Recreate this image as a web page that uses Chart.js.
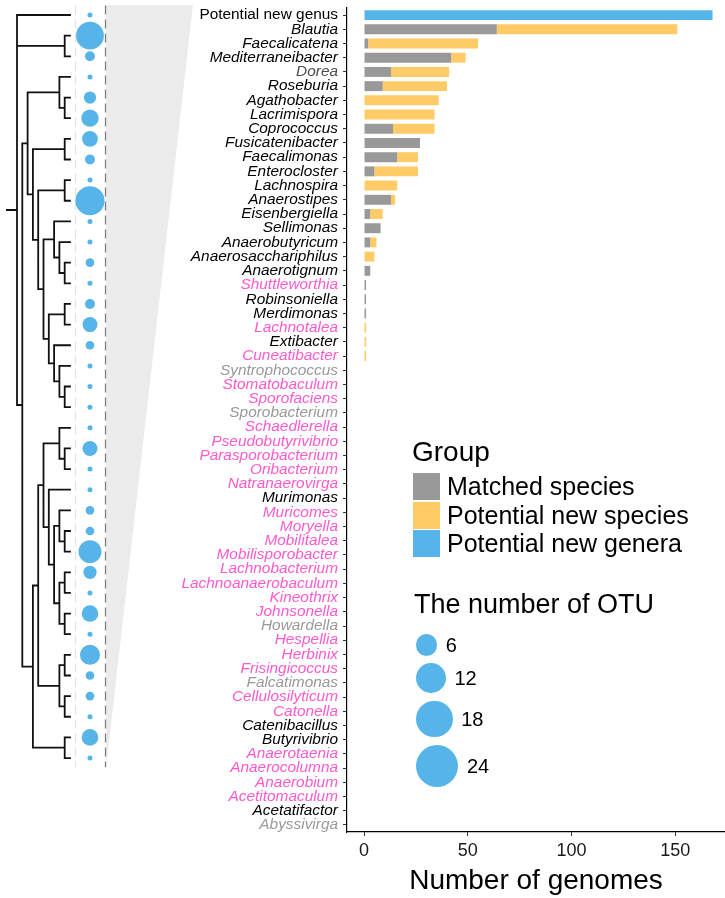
<!DOCTYPE html>
<html>
<head>
<meta charset="utf-8">
<script src="https://cdn.jsdelivr.net/npm/chart.js@4.4.0/dist/chart.umd.min.js"></script>
<style>
  body { margin: 0; background: #fff; }
  #wrap { position: relative; width: 725px; height: 898px; overflow: hidden; font-family: "Liberation Sans", Arial, sans-serif; }
  #wrap canvas { position: absolute; top: 0; }
  #treeCanvas { left: 0; }
  #barCanvas { left: 170px; }
  .lg { position: absolute; color: #000; white-space: nowrap; }
  .key { position: absolute; width: 27px; height: 27px; }
  .dot { position: absolute; border-radius: 50%; background: #56B4E9; }
</style>
</head>
<body>
<div id="wrap">
  <canvas id="treeCanvas" width="200" height="898"></canvas>
  <canvas id="barCanvas" width="555" height="898"></canvas>
  <div id="legend"></div>
</div>
<script>
/**** Daten ****/

/* Gattungen, von oben nach unten */
const genera = [
  'Potential new genus', 'Blautia', 'Faecalicatena', 'Mediterraneibacter', 'Dorea',
  'Roseburia', 'Agathobacter', 'Lacrimispora', 'Coprococcus', 'Fusicatenibacter',
  'Faecalimonas', 'Enterocloster', 'Lachnospira', 'Anaerostipes', 'Eisenbergiella',
  'Sellimonas', 'Anaerobutyricum', 'Anaerosacchariphilus', 'Anaerotignum', 'Shuttleworthia',
  'Robinsoniella', 'Merdimonas', 'Lachnotalea', 'Extibacter', 'Cuneatibacter',
  'Syntrophococcus', 'Stomatobaculum', 'Sporofaciens', 'Sporobacterium', 'Schaedlerella',
  'Pseudobutyrivibrio', 'Parasporobacterium', 'Oribacterium', 'Natranaerovirga', 'Murimonas',
  'Muricomes', 'Moryella', 'Mobilitalea', 'Mobilisporobacter', 'Lachnobacterium',
  'Lachnoanaerobaculum', 'Kineothrix', 'Johnsonella', 'Howardella', 'Hespellia',
  'Herbinix', 'Frisingicoccus', 'Falcatimonas', 'Cellulosilyticum', 'Catonella',
  'Catenibacillus', 'Butyrivibrio', 'Anaerotaenia', 'Anaerocolumna', 'Anaerobium',
  'Acetitomaculum', 'Acetatifactor', 'Abyssivirga'
];

/* Farbe der Beschriftung: k = schwarz, d = dunkelgrau, p = pink, g = grau */
const labelGroup = [
  'k', 'k', 'k', 'k', 'd', 'k', 'k', 'k', 'k', 'k',
  'k', 'k', 'k', 'k', 'k', 'k', 'k', 'k', 'k', 'p',
  'k', 'k', 'p', 'k', 'p', 'g', 'p', 'p', 'g', 'p',
  'p', 'p', 'p', 'p', 'k', 'p', 'p', 'p', 'p', 'p',
  'p', 'p', 'p', 'g', 'p', 'p', 'p', 'g', 'p', 'p',
  'k', 'k', 'p', 'p', 'p', 'p', 'k', 'g'
];

/* Anzahl Genome je Gruppe */
const matchedSpecies = [
  0, 64, 2, 42, 13, 9, 0, 0, 14, 27,
  16, 5, 0, 13, 3, 8, 3, 0, 3, 1,
  1, 1, 0, 0, 0, 0, 0, 0, 0, 0,
  0, 0, 0, 0, 0, 0, 0, 0, 0, 0,
  0, 0, 0, 0, 0, 0, 0, 0, 0, 0,
  0, 0, 0, 0, 0, 0, 0, 0
];
const newSpecies = [
  0, 87, 53, 7, 28, 31, 36, 34, 20, 0,
  10, 21, 16, 2, 6, 0, 3, 5, 0, 0,
  0, 0, 1, 1, 1, 0, 0, 0, 0, 0,
  0, 0, 0, 0, 0, 0, 0, 0, 0, 0,
  0, 0, 0, 0, 0, 0, 0, 0, 0, 0,
  0, 0, 0, 0, 0, 0, 0, 0
];
const newGenera = [
  168, 0, 0, 0, 0, 0, 0, 0, 0, 0,
  0, 0, 0, 0, 0, 0, 0, 0, 0, 0,
  0, 0, 0, 0, 0, 0, 0, 0, 0, 0,
  0, 0, 0, 0, 0, 0, 0, 0, 0, 0,
  0, 0, 0, 0, 0, 0, 0, 0, 0, 0,
  0, 0, 0, 0, 0, 0, 0, 0
];

const xTicks = [0, 50, 100, 150];
const groupNames = ['Matched species', 'Potential new species', 'Potential new genera'];
const otuBreaks = [6, 12, 18, 24];

/* Baum (Blätter 0..36 von oben nach unten) */
const treeTopology = [
  0,
  [1, 2],
  [
    [
      [3, [4, 5]],
      [[6, 7], [[8, 9], [[10, [11, [12, 13]]], [[14, 15], [16, [17, [18, 19]]]]]]]
    ],
    [
      [
        [[20, [21, 22]], [23, [[24, [25, 26]], [[27, 28], [29, 30]]]]],
        [[31, 32], [33, 34]]
      ],
      [35, 36]
    ]
  ]
];

/* Anzahl OTU je Blatt */
const otuCounts = [
  1, 31, 4, 1, 6, 12, 10, 4, 1, 34,
  1, 1, 3, 1, 4, 9, 3, 1, 1, 1,
  1, 9, 1, 1, 3, 3, 21, 7, 1, 11,
  1, 16, 3, 3, 1, 11, 1
];

/**** Farben und Schrift ****/
const groupColors = ['#999999', '#FFCB66', '#56B4E9'];
const labelColors = { k: '#000000', d: '#4d4d4d', p: '#FF5ACD', g: '#999999' };
const schrift = '"Liberation Sans", Arial, Helvetica, sans-serif';
Chart.defaults.font.family = schrift;
Chart.defaults.animation = false;

/**** Baum berechnen ****/
function hoehe(knoten) {
  return Array.isArray(knoten) ? 1 + Math.max(...knoten.map(hoehe)) : 0;
}
const maxHoehe = hoehe(treeTopology);
const treeSegments = [];
const luecke = { x: NaN, y: NaN }; /* Unterbrechung der Linie */

function zeichneKnoten(knoten) {
  if (!Array.isArray(knoten)) return { x: maxHoehe, y: knoten };
  const kinder = knoten.map(zeichneKnoten);
  const x = maxHoehe - hoehe(knoten);
  const erstes = kinder[0].y;
  const letztes = kinder[kinder.length - 1].y;
  treeSegments.push({ x: x, y: erstes }, { x: x, y: letztes }, luecke);
  kinder.forEach(k => treeSegments.push({ x: x, y: k.y }, { x: k.x, y: k.y }, luecke));
  return { x: x, y: (erstes + letztes) / 2 };
}
const wurzel = zeichneKnoten(treeTopology);
treeSegments.push({ x: wurzel.x - 1.9, y: wurzel.y }, { x: wurzel.x, y: wurzel.y });

/* Positionen in Baum-Einheiten (x: Ebenen, y: Blattindex) */
const bubbleX = 13.77;
const bubbleData = otuCounts.map((n, i) => ({ x: bubbleX, y: i, r: 2.5 * Math.sqrt(n) }));
const yOben = -0.46, yUnten = 36.45;

/**** Baum-Chart ****/
new Chart(document.getElementById('treeCanvas'), {
  type: 'scatter',
  data: {
    datasets: [
      { type: 'bubble', data: bubbleData, backgroundColor: '#56B4E9', borderWidth: 0 },
      { type: 'line', data: treeSegments, borderColor: '#111111', borderWidth: 1.8,
        borderCapStyle: 'square', pointRadius: 0, spanGaps: false, tension: 0 },
      { type: 'line', data: [{ x: 11.04, y: yOben }, { x: 11.04, y: yUnten }],
        borderColor: '#e2e2e2', borderWidth: 1.2, borderDash: [9, 5], pointRadius: 0 },
      { type: 'line', data: [{ x: 16.7, y: yOben }, { x: 16.7, y: yUnten }],
        borderColor: '#808080', borderWidth: 1.3, borderDash: [9, 5], pointRadius: 0 },
      { type: 'line', data: [{ x: 16.8, y: -0.48 }, { x: 33.2, y: -0.48 }, { x: 16.8, y: 36.5 }],
        backgroundColor: '#ebebeb', borderWidth: 0, pointRadius: 0, fill: 'shape' }
    ]
  },
  options: {
    responsive: false,
    events: [],
    layout: { padding: 0, autoPadding: false },
    plugins: { legend: { display: false }, tooltip: { enabled: false } },
    scales: {
      x: { type: 'linear', display: false, min: -17 / 5.3, max: 183 / 5.3 },
      y: { type: 'linear', display: false, reverse: true, min: -15 / 20.64, max: 883 / 20.64 }
    }
  }
});

/**** Balken-Chart ****/
const achsenGrid = { display: true, offset: false, drawOnChartArea: false, drawTicks: true, tickLength: 4, color: '#333333' };
const achsenLinie = { display: true, color: '#000000', width: 1.2 };

new Chart(document.getElementById('barCanvas'), {
  type: 'bar',
  data: {
    labels: genera,
    datasets: [
      { label: groupNames[0], data: matchedSpecies, backgroundColor: groupColors[0] },
      { label: groupNames[1], data: newSpecies, backgroundColor: groupColors[1] },
      { label: groupNames[2], data: newGenera, backgroundColor: groupColors[2] }
    ]
  },
  options: {
    indexAxis: 'y',
    responsive: false,
    events: [],
    datasets: { bar: { categoryPercentage: 1, barPercentage: 0.7, borderWidth: 0 } },
    layout: { padding: { top: 8, left: 0, right: 0, bottom: 0 }, autoPadding: false },
    plugins: { legend: { display: false }, tooltip: { enabled: false } },
    scales: {
      y: {
        stacked: true,
        offset: true,
        grid: achsenGrid,
        border: achsenLinie,
        ticks: {
          autoSkip: false,
          padding: 5,
          color: ctx => labelColors[labelGroup[ctx.index]],
          font: ctx => ({ family: schrift, size: 15.4, style: ctx.index === 0 ? 'normal' : 'italic' })
        },
        afterFit: s => { s.width = 177; s.paddingTop = 0; s.paddingBottom = 0; }
      },
      x: {
        stacked: true,
        min: -8.2,
        max: 174,
        afterBuildTicks: s => { s.ticks = xTicks.map(v => ({ value: v })); },
        grid: achsenGrid,
        border: achsenLinie,
        ticks: { color: '#1a1a1a', font: { size: 18 }, padding: 4 },
        title: { display: true, text: 'Number of genomes', color: '#000', font: { size: 28 }, padding: { top: 0, bottom: 0 } },
        afterFit: s => { s.height = 66; s.paddingLeft = 0; s.paddingRight = 0; }
      }
    }
  }
});

/**** Legenden (HTML) ****/
const legende = document.getElementById('legend');
function setzeText(text, links, mitteY, groesse) {
  const el = document.createElement('div');
  el.className = 'lg';
  el.textContent = text;
  el.style.left = links + 'px';
  el.style.top = (mitteY - groesse / 2) + 'px';
  el.style.fontSize = groesse + 'px';
  el.style.lineHeight = groesse + 'px';
  legende.appendChild(el);
}

/* Gruppe */
setzeText('Group', 412, 452, 28);
groupNames.forEach((name, i) => {
  const mitte = 486.5 + i * 28.5;
  const key = document.createElement('div');
  key.className = 'key';
  key.style.left = '413px';
  key.style.top = (mitte - 13.5) + 'px';
  key.style.background = groupColors[i];
  legende.appendChild(key);
  setzeText(name, 447, mitte, 25);
});

/* Anzahl OTU */
setzeText('The number of OTU', 414, 604, 27);
let mitteY = 645, vorherR = 0;
otuBreaks.forEach((wert, i) => {
  const r = 4.33 * Math.sqrt(wert);
  if (i > 0) mitteY += vorherR + r + 7.5;
  const dot = document.createElement('div');
  dot.className = 'dot';
  dot.style.width = dot.style.height = (2 * r) + 'px';
  dot.style.left = '416px';
  dot.style.top = (mitteY - r) + 'px';
  legende.appendChild(dot);
  setzeText(String(wert), 416 + 2 * r + 8.5, mitteY, 20);
  vorherR = r;
});
</script>
</body>
</html>
